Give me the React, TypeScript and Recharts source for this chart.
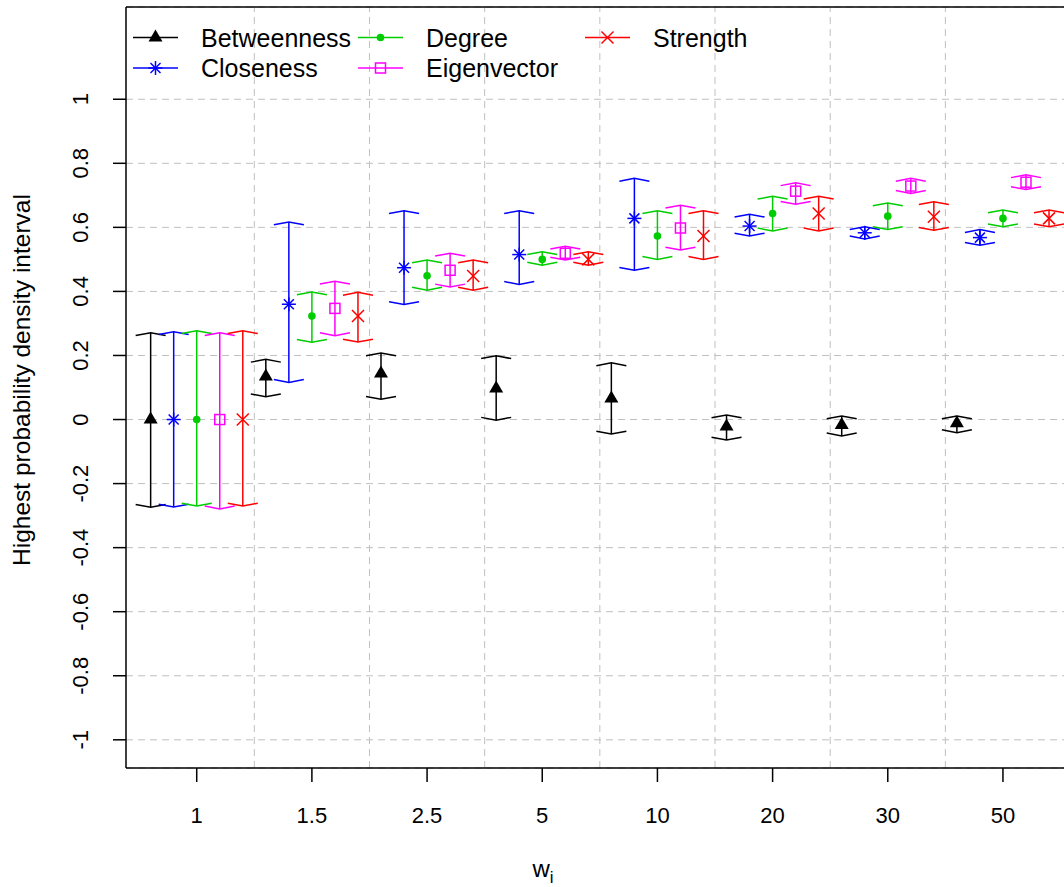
import React from 'react';
import { ScatterChart, Scatter, XAxis, YAxis, CartesianGrid, ReferenceLine, ErrorBar } from 'recharts';

// weight values on the x axis
const weights = ['1', '1.5', '2.5', '5', '10', '20', '30', '50'];

// point estimates and HPD interval bounds, one value per weight
const betweennessEst = [0, 0.134, 0.144, 0.097, 0.066, -0.022, -0.017, -0.012];
const betweennessLow = [-0.274, 0.071, 0.063, -0.002, -0.045, -0.064, -0.051, -0.041];
const betweennessHigh = [0.271, 0.188, 0.208, 0.199, 0.177, 0.014, 0.011, 0.011];

const closenessEst = [0, 0.36, 0.474, 0.515, 0.628, 0.604, 0.583, 0.568];
const closenessLow = [-0.273, 0.116, 0.359, 0.422, 0.466, 0.573, 0.564, 0.544];
const closenessHigh = [0.274, 0.617, 0.652, 0.652, 0.753, 0.641, 0.602, 0.593];

const degreeEst = [0, 0.323, 0.449, 0.5, 0.573, 0.643, 0.635, 0.628];
const degreeLow = [-0.27, 0.241, 0.404, 0.482, 0.5, 0.589, 0.593, 0.602];
const degreeHigh = [0.277, 0.398, 0.498, 0.524, 0.652, 0.697, 0.676, 0.654];

const eigenvectorEst = [0, 0.347, 0.466, 0.519, 0.598, 0.713, 0.729, 0.741];
const eigenvectorLow = [-0.279, 0.262, 0.414, 0.498, 0.529, 0.672, 0.706, 0.718];
const eigenvectorHigh = [0.271, 0.432, 0.519, 0.541, 0.669, 0.739, 0.753, 0.764];

const strengthEst = [0, 0.323, 0.448, 0.5, 0.573, 0.643, 0.633, 0.628];
const strengthLow = [-0.27, 0.242, 0.404, 0.482, 0.5, 0.589, 0.591, 0.602];
const strengthHigh = [0.277, 0.397, 0.498, 0.524, 0.652, 0.697, 0.68, 0.654];

const yTicks = [-1, -0.8, -0.6, -0.4, -0.2, 0, 0.2, 0.4, 0.6, 0.8, 1];
const xTicks = [1, 2, 3, 4, 5, 6, 7, 8];
const dividers = [1.5, 2.5, 3.5, 4.5, 5.5, 6.5, 7.5];

const Y_MIN = -1.088;
const Y_MAX = 1.288;
const FONT = "'Liberation Sans', Arial, sans-serif";
const GRID = '#c0c0c0';

type Kind = 'triangle' | 'asterisk' | 'dot' | 'square' | 'cross';

const SERIES: { name: string; color: string; offset: number; kind: Kind; est: number[]; low: number[]; high: number[] }[] = [
  { name: 'Betweenness', color: '#000000', offset: -0.4, kind: 'triangle', est: betweennessEst, low: betweennessLow, high: betweennessHigh },
  { name: 'Closeness', color: '#0000ff', offset: -0.2, kind: 'asterisk', est: closenessEst, low: closenessLow, high: closenessHigh },
  { name: 'Degree', color: '#00cd00', offset: 0, kind: 'dot', est: degreeEst, low: degreeLow, high: degreeHigh },
  { name: 'Eigenvector', color: '#ff00ff', offset: 0.2, kind: 'square', est: eigenvectorEst, low: eigenvectorLow, high: eigenvectorHigh },
  { name: 'Strength', color: '#ff0000', offset: 0.4, kind: 'cross', est: strengthEst, low: strengthLow, high: strengthHigh },
];

const SW = 1.5;

const Marker = ({ kind, cx, cy, color }: { kind: Kind; cx: number; cy: number; color: string }) => {
  switch (kind) {
    case 'triangle':
      return <path d={`M${cx},${cy - 8} L${cx + 7},${cy + 4} L${cx - 7},${cy + 4} Z`} fill={color} />;
    case 'asterisk':
      return (
        <g stroke={color} strokeWidth={SW}>
          <line x1={cx - 7} y1={cy} x2={cx + 7} y2={cy} />
          <line x1={cx} y1={cy - 7} x2={cx} y2={cy + 7} />
          <line x1={cx - 5} y1={cy - 5} x2={cx + 5} y2={cy + 5} />
          <line x1={cx - 5} y1={cy + 5} x2={cx + 5} y2={cy - 5} />
        </g>
      );
    case 'dot':
      return <circle cx={cx} cy={cy} r={3.8} fill={color} />;
    case 'square':
      return <rect x={cx - 5} y={cy - 5} width={10} height={10} fill="none" stroke={color} strokeWidth={SW} />;
    default:
      return (
        <g stroke={color} strokeWidth={SW}>
          <line x1={cx - 6} y1={cy - 6} x2={cx + 6} y2={cy + 6} />
          <line x1={cx - 6} y1={cy + 6} x2={cx + 6} y2={cy - 6} />
        </g>
      );
  }
};

// angled arrow-head caps at the ends of each interval
const Cap = ({ cx, cy, payload, color }: any) => {
  const d = payload.end === 'high' ? 2.8 : -2.8;
  return <path d={`M${cx - 15},${cy + d} L${cx},${cy} L${cx + 15},${cy + d}`} fill="none" stroke={color} strokeWidth={SW} />;
};

const YTick = ({ x, y, payload }: any) => (
  <g>
    <text x={x} y={y} dy="0.36em" transform={`rotate(-90, ${x}, ${y})`} textAnchor="middle" fontSize={22} fontFamily={FONT} fill="#000">
      {String(payload.value)}
    </text>
  </g>
);

const XTick = ({ x, y, payload }: any) => (
  <text x={x} y={y} dy="0.36em" textAnchor="middle" fontSize={22} fontFamily={FONT} fill="#000">
    {weights[payload.value - 1]}
  </text>
);

const legendCols = [133, 358, 585];
const legendRows = [37.5, 68];

const LegendOverlay = () => (
  <svg width={1064} height={887} style={{ position: 'absolute', left: 0, top: 0, pointerEvents: 'none' }}>
    {SERIES.map((s, i) => {
      const x0 = legendCols[Math.floor(i / 2)];
      const y0 = legendRows[i % 2];
      return (
        <g key={s.name}>
          <line x1={x0} y1={y0} x2={x0 + 45} y2={y0} stroke={s.color} strokeWidth={SW} />
          <Marker kind={s.kind} cx={x0 + 22.5} cy={y0} color={s.color} />
          <text x={x0 + 68} y={y0} dy="0.36em" fontSize={25} fontFamily={FONT} fill="#000">
            {s.name}
          </text>
        </g>
      );
    })}
    <text x={21} y={380} dy="0.36em" transform="rotate(-90, 21, 380)" textAnchor="middle" fontSize={24.5} fontFamily={FONT} fill="#000">
      Highest probability density interval
    </text>
    <text x={543} y={877} textAnchor="middle" fontSize={24} fontFamily={FONT} fill="#000">
      w<tspan dy={6} fontSize={17}>i</tspan>
    </text>
  </svg>
);

const App: React.FC = () => {
  return (
    <div style={{ position: 'absolute', left: 0, top: 0, width: 1064, height: 887, background: '#fff' }}>
      <ScatterChart width={1064} height={887} margin={{ top: 7, right: 0, bottom: 0, left: 0 }}>
        <CartesianGrid horizontal vertical={false} stroke={GRID} strokeDasharray="7 5" />
        {dividers.map((d) => (
          <ReferenceLine key={`v-${d}`} x={d} stroke={GRID} strokeDasharray="7 5" />
        ))}
        <ReferenceLine y={Y_MAX} stroke="#000" strokeWidth={SW} />
        <XAxis
          type="number"
          dataKey="x"
          domain={[0.386, 8.53]}
          allowDataOverflow
          ticks={xTicks}
          tick={<XTick />}
          tickSize={14}
          tickMargin={33}
          height={119}
          axisLine={{ stroke: '#000', strokeWidth: SW }}
          tickLine={{ stroke: '#000', strokeWidth: SW }}
        />
        <YAxis
          type="number"
          dataKey="y"
          domain={[Y_MIN, Y_MAX]}
          allowDataOverflow
          ticks={yTicks}
          tick={<YTick />}
          tickSize={13}
          tickMargin={33}
          width={126}
          axisLine={{ stroke: '#000', strokeWidth: SW }}
          tickLine={{ stroke: '#000', strokeWidth: SW }}
        />
        {SERIES.map((s) => {
          const caps = weights.flatMap((w, i) => [
            { x: i + 1 + s.offset, y: s.low[i], end: 'low' },
            { x: i + 1 + s.offset, y: s.high[i], end: 'high' },
          ]);
          return (
            <Scatter
              key={`cap-${s.name}`}
              data={caps}
              isAnimationActive={false}
              shape={(p: any) => <Cap {...p} color={s.color} />}
            />
          );
        })}
        {SERIES.map((s) => {
          const pts = weights.map((w, i) => ({
            x: i + 1 + s.offset,
            y: s.est[i],
            err: [s.est[i] - s.low[i], s.high[i] - s.est[i]],
          }));
          return (
            <Scatter
              key={`pt-${s.name}`}
              name={s.name}
              data={pts}
              isAnimationActive={false}
              shape={(p: any) => <Marker kind={s.kind} cx={p.cx} cy={p.cy} color={s.color} />}
            >
              <ErrorBar dataKey="err" direction="y" width={0} stroke={s.color} strokeWidth={SW} />
            </Scatter>
          );
        })}
      </ScatterChart>
      <LegendOverlay />
    </div>
  );
};

export default App;
